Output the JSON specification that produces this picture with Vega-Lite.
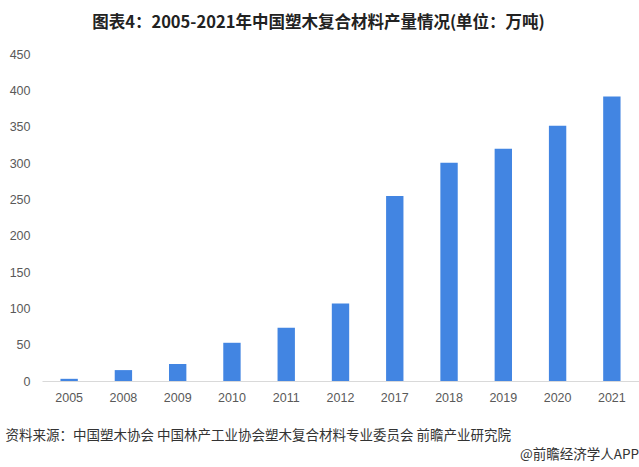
{
  "$schema": "https://vega.github.io/schema/vega-lite/v6.json",
  "width": 639,
  "height": 467,
  "autosize": {"type": "fit", "contains": "padding"},
  "padding": {"left": 5, "right": 0, "top": 14, "bottom": 5},
  "background": "white",
  "config": {"view": {"stroke": null}},
  "title": {
    "text": "@前瞻经济学人APP",
    "orient": "bottom",
    "anchor": "end",
    "frame": "bounds",
    "fontSize": 13.5,
    "font": "Noto Sans CJK SC",
    "fontWeight": "normal",
    "color": "#333333",
    "offset": 6
  },
  "data": {
    "values": [
      {"year": "2005", "value": 3},
      {"year": "2008", "value": 15},
      {"year": "2009", "value": 23.5},
      {"year": "2010", "value": 52.6},
      {"year": "2011", "value": 73.3},
      {"year": "2012", "value": 106.6},
      {"year": "2017", "value": 254.7},
      {"year": "2018", "value": 300.2},
      {"year": "2019", "value": 319.6},
      {"year": "2020", "value": 351.3},
      {"year": "2021", "value": 391.4}
    ]
  },
  "encoding": {
    "y": {
      "field": "value",
      "type": "quantitative",
      "scale": {"domain": [0, 450], "nice": false},
      "axis": {
        "values": [0, 50, 100, 150, 200, 250, 300, 350, 400, 450],
        "labelOverlap": false,
        "grid": false,
        "domain": false,
        "ticks": false,
        "labelFont": "Liberation Sans",
        "labelFontSize": 12.5,
        "labelColor": "#595959",
        "labelPadding": 12,
        "title": null
      }
    }
  },
  "layer": [
    {
      "mark": {"type": "bar", "color": "#4285e2"},
      "encoding": {
        "x": {
          "field": "year",
          "type": "ordinal",
          "sort": null,
          "scale": {"paddingInner": 0.68, "paddingOuter": 0.34},
          "axis": {
            "orient": "bottom",
            "labelAngle": 0,
            "ticks": false,
            "domainColor": "#d9d9d9",
            "domainWidth": 1,
            "labelFont": "Liberation Sans",
            "labelFontSize": 12.5,
            "labelColor": "#595959",
            "labelPadding": 10,
            "title": "资料来源：中国塑木协会 中国林产工业协会塑木复合材料专业委员会 前瞻产业研究院",
            "titleFont": "Noto Sans CJK SC",
            "titleFontSize": 13.5,
            "titleFontWeight": "normal",
            "titleColor": "#333333",
            "titleAnchor": "start",
            "titleAlign": "left",
            "titleX": -37,
            "titlePadding": 25
          }
        }
      }
    },
    {
      "mark": {"type": "bar", "opacity": 0},
      "encoding": {
        "x": {
          "field": "year",
          "type": "ordinal",
          "sort": null,
          "axis": {
            "orient": "top",
            "labels": false,
            "ticks": false,
            "domain": false,
            "title": "图表4：2005-2021年中国塑木复合材料产量情况(单位：万吨)",
            "titleFont": "Noto Sans CJK SC",
            "titleFontSize": 16.5,
            "titleFontWeight": "bold",
            "titleColor": "#222222",
            "titleAlign": "center",
            "titleX": 276,
            "titlePadding": 24
          }
        }
      }
    }
  ],
  "resolve": {"axis": {"x": "independent"}}
}
